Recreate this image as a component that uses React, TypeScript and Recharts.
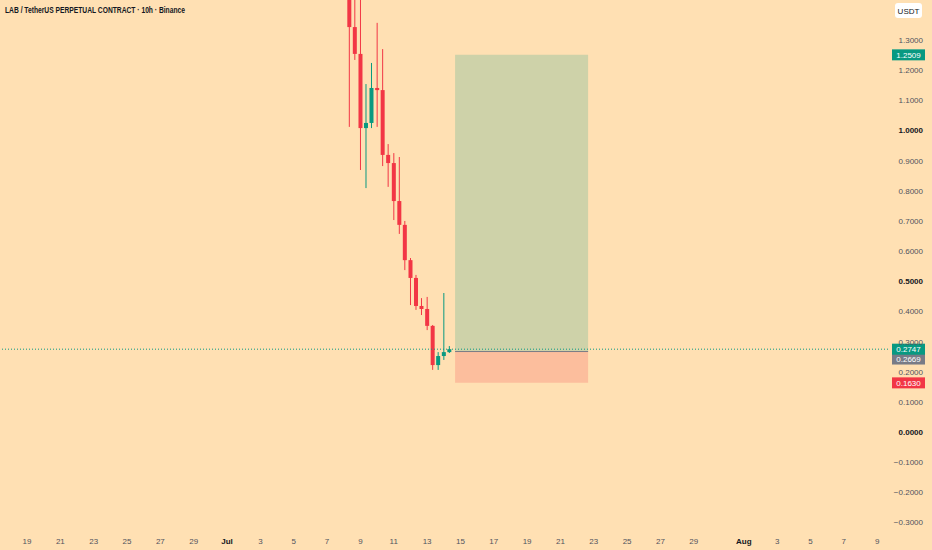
import React from 'react';
import { ComposedChart, Bar, XAxis, YAxis, ReferenceArea, ReferenceLine } from 'recharts';

// Candle times in days (Jun d = d, Jul d = 30 + d, Aug d = 61 + d)
const candleTimes = [38.32, 38.65, 38.99, 39.32, 39.65, 39.99, 40.32, 40.65, 40.99, 41.32, 41.65, 41.99, 42.32, 42.65, 42.99, 43.32, 43.65, 43.99, 44.32];
const opens = [1.47, 1.343, 1.254, 1.008, 1.025, 1.141, 1.134, 0.919, 0.892, 0.766, 0.687, 0.57, 0.511, 0.418, 0.408, 0.352, 0.222, 0.252, 0.265];
const highs = [1.52, 1.47, 1.46, 1.154, 1.224, 1.357, 1.27, 0.955, 0.925, 0.912, 0.7, 0.577, 0.521, 0.444, 0.448, 0.355, 0.265, 0.461, 0.285];
const lows = [1.012, 1.234, 0.869, 0.809, 1.008, 1.012, 0.882, 0.813, 0.703, 0.657, 0.537, 0.421, 0.405, 0.388, 0.338, 0.206, 0.206, 0.239, 0.262];
const closes = [1.343, 1.254, 1.008, 1.025, 1.141, 1.134, 0.919, 0.892, 0.766, 0.687, 0.57, 0.511, 0.418, 0.408, 0.352, 0.222, 0.252, 0.265, 0.2747];

const dateTickValues = [19, 21, 23, 25, 27, 29, 31, 33, 35, 37, 39, 41, 43, 45, 47, 49, 51, 53, 55, 57, 59, 62, 64, 66, 68, 70];
const dateTickLabels = ['19', '21', '23', '25', '27', '29', 'Jul', '3', '5', '7', '9', '11', '13', '15', '17', '19', '21', '23', '25', '27', '29', 'Aug', '3', '5', '7', '9'];
const boldDateLabels = ['Jul', 'Aug'];

const priceTicks = [-0.3, -0.2, -0.1, 0, 0.1, 0.2, 0.3, 0.4, 0.5, 0.6, 0.7, 0.8, 0.9, 1.0, 1.1, 1.2, 1.3];
const boldPrices = [0, 0.5, 1.0];

// Long position tool
const positionStart = 44.68;
const positionEnd = 52.66;
const targetPrice = 1.2509;
const entryPrice = 0.2669;
const stopPrice = 0.163;
const lastPrice = 0.2747;

const GREEN = '#089981';
const RED = '#F23645';
const GRAY = '#787B86';
const BG = '#FFE0B3';
const FONT = '"Liberation Sans", Arial, sans-serif';

const data = candleTimes.map((t, i) => ({
  t,
  open: opens[i],
  high: highs[i],
  low: lows[i],
  close: closes[i],
}));

const Candle = (props: any) => {
  const { x, y, width, height, payload } = props;
  if (!payload || height == null) return null;
  const { open, close, high, low } = payload;
  const color = close >= open ? GREEN : RED;
  const ratio = height / (high - low);
  const yOf = (v: number) => y + (high - v) * ratio;
  const cx = x + width / 2;
  const top = yOf(Math.max(open, close));
  const bot = yOf(Math.min(open, close));
  return (
    <g>
      <line x1={cx} x2={cx} y1={y} y2={y + height} stroke={color} strokeWidth={1} />
      <rect x={x} y={top} width={width} height={Math.max(1.5, bot - top)} fill={color} />
    </g>
  );
};

const DateTick = (props: any) => {
  const { x, payload } = props;
  const idx = dateTickValues.indexOf(payload.value);
  const label = idx >= 0 ? dateTickLabels[idx] : '';
  const bold = boldDateLabels.includes(label);
  return (
    <text x={x} y={544} textAnchor="middle" fontSize={8} fontFamily={FONT}
      fill={bold ? '#131722' : '#50535E'} fontWeight={bold ? 700 : 400}>
      {label}
    </text>
  );
};

const PriceTick = (props: any) => {
  const { y, payload } = props;
  const v = payload.value as number;
  const bold = boldPrices.some((b) => Math.abs(b - v) < 1e-9);
  const txt = (v < -1e-9 ? '\u2212' : '') + Math.abs(v).toFixed(4);
  return (
    <text x={923} y={y + 3} textAnchor="end" fontSize={8} fontFamily={FONT}
      fill={bold ? '#131722' : '#50535E'} fontWeight={bold ? 700 : 400}>
      {txt}
    </text>
  );
};

const Badge = (props: any) => {
  const { viewBox, text, color, dy = 0 } = props;
  if (!viewBox) return null;
  const cy = viewBox.y + dy;
  return (
    <g>
      <rect x={892} y={cy - 5.5} width={33} height={11} fill={color} />
      <text x={908.5} y={cy + 3} textAnchor="middle" fontSize={8} fontFamily={FONT} fill="#FFFFFF">
        {text}
      </text>
    </g>
  );
};

export default function App() {
  return (
    <div style={{ position: 'absolute', left: 0, top: 0, width: 932, height: 550, background: BG, overflow: 'hidden' }}>
      <ComposedChart width={932} height={550} data={data} margin={{ top: 0, right: 0, bottom: 0, left: 0 }}>
        <XAxis
          type="number"
          dataKey="t"
          domain={[17.38, 70.65]}
          allowDataOverflow
          ticks={dateTickValues}
          interval={0}
          tick={<DateTick />}
          axisLine={false}
          tickLine={false}
          height={20}
        />
        <YAxis
          orientation="right"
          type="number"
          domain={[-0.325, 1.4328]}
          allowDataOverflow
          ticks={priceTicks}
          interval={0}
          tick={<PriceTick />}
          axisLine={false}
          tickLine={false}
          width={44}
        />
        <ReferenceArea x1={positionStart} x2={positionEnd} y1={entryPrice} y2={targetPrice}
          fill={GREEN} fillOpacity={0.2} stroke="none" />
        <ReferenceArea x1={positionStart} x2={positionEnd} y1={stopPrice} y2={entryPrice}
          fill={RED} fillOpacity={0.2} stroke="none" />
        <ReferenceLine segment={[{ x: positionStart, y: entryPrice }, { x: positionEnd, y: entryPrice }]}
          stroke={GRAY} strokeWidth={1} />
        <ReferenceLine y={lastPrice} stroke={GREEN} strokeDasharray="1 2" strokeWidth={1} />
        <Bar dataKey={(d: any) => [d.low, d.high]} barSize={4} shape={<Candle />} isAnimationActive={false} />
        <ReferenceLine y={targetPrice} stroke="none" label={<Badge text="1.2509" color={GREEN} />} />
        <ReferenceLine y={entryPrice} stroke="none" label={<Badge text="0.2669" color={GRAY} dy={7.5} />} />
        <ReferenceLine y={lastPrice} stroke="none" label={<Badge text="0.2747" color={GREEN} />} />
        <ReferenceLine y={stopPrice} stroke="none" label={<Badge text="0.1630" color={RED} />} />
      </ComposedChart>
      <svg width={932} height={30} style={{ position: 'absolute', left: 0, top: 0 }}>
        <text x={5} y={13} fontSize={9} fontWeight={700} fontFamily={FONT} fill="#131722"
          textLength={180} lengthAdjust="spacingAndGlyphs">
          LAB / TetherUS PERPETUAL CONTRACT · 10h · Binance
        </text>
        <rect x={895} y={3} width={27} height={15} rx={3} fill="#FFFFFF" />
        <text x={908.5} y={13.5} textAnchor="middle" fontSize={8} fontFamily={FONT} fill="#131722">USDT</text>
      </svg>
    </div>
  );
}
